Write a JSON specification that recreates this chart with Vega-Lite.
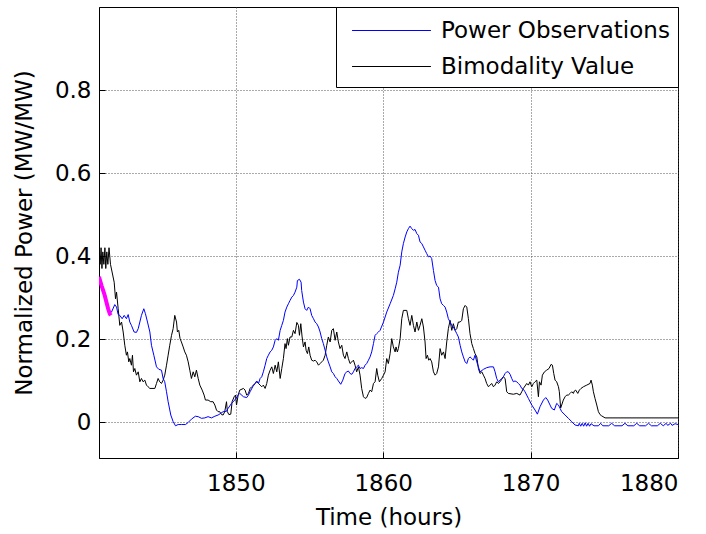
{
  "$schema": "https://vega.github.io/schema/vega-lite/v6.json",
  "width": 579,
  "height": 451,
  "autosize": "none",
  "padding": {"left": 99, "top": 7, "right": 28, "bottom": 76},
  "background": "white",
  "datasets": {
    "power": [
      {"t": 1840.72, "v": 0.35}, {"t": 1840.89, "v": 0.329}, {"t": 1841.0, "v": 0.317}, {"t": 1841.11, "v": 0.305}, {"t": 1841.23, "v": 0.288}, {"t": 1841.34, "v": 0.273}, {"t": 1841.45, "v": 0.261}, {"t": 1841.57, "v": 0.265}, {"t": 1841.79, "v": 0.283}, {"t": 1841.91, "v": 0.277}, {"t": 1842.02, "v": 0.259}, {"t": 1842.13, "v": 0.257}, {"t": 1842.29, "v": 0.249}, {"t": 1842.43, "v": 0.257}, {"t": 1842.58, "v": 0.249}, {"t": 1842.7, "v": 0.259}, {"t": 1842.81, "v": 0.241}, {"t": 1842.92, "v": 0.233}, {"t": 1843.1, "v": 0.217}, {"t": 1843.26, "v": 0.216}, {"t": 1843.38, "v": 0.225}, {"t": 1843.49, "v": 0.241}, {"t": 1843.6, "v": 0.257}, {"t": 1843.76, "v": 0.273}, {"t": 1843.87, "v": 0.261}, {"t": 1844.01, "v": 0.241}, {"t": 1844.17, "v": 0.217}, {"t": 1844.28, "v": 0.185}, {"t": 1844.44, "v": 0.161}, {"t": 1844.62, "v": 0.133}, {"t": 1844.78, "v": 0.127}, {"t": 1844.96, "v": 0.125}, {"t": 1845.07, "v": 0.105}, {"t": 1845.18, "v": 0.097}, {"t": 1845.3, "v": 0.073}, {"t": 1845.41, "v": 0.049}, {"t": 1845.59, "v": 0.017}, {"t": 1845.75, "v": 0.001}, {"t": 1845.91, "v": -0.009}, {"t": 1846.09, "v": -0.006}, {"t": 1846.31, "v": -0.006}, {"t": 1846.59, "v": -0.006}, {"t": 1846.77, "v": -0.001}, {"t": 1846.99, "v": 0.007}, {"t": 1847.26, "v": 0.014}, {"t": 1847.45, "v": 0.013}, {"t": 1847.67, "v": 0.009}, {"t": 1847.9, "v": 0.01}, {"t": 1848.12, "v": 0.013}, {"t": 1848.35, "v": 0.01}, {"t": 1848.58, "v": 0.014}, {"t": 1848.8, "v": 0.017}, {"t": 1848.98, "v": 0.021}, {"t": 1849.14, "v": 0.025}, {"t": 1849.37, "v": 0.026}, {"t": 1849.48, "v": 0.033}, {"t": 1849.71, "v": 0.045}, {"t": 1849.93, "v": 0.053}, {"t": 1850.16, "v": 0.065}, {"t": 1850.27, "v": 0.069},
      {"t": 1850.52, "v": 0.061}, {"t": 1850.74, "v": 0.059}, {"t": 1850.86, "v": 0.065}, {"t": 1850.97, "v": 0.073}, {"t": 1851.15, "v": 0.085}, {"t": 1851.31, "v": 0.093}, {"t": 1851.42, "v": 0.099}, {"t": 1851.54, "v": 0.093}, {"t": 1851.65, "v": 0.105}, {"t": 1851.76, "v": 0.109}, {"t": 1851.87, "v": 0.121}, {"t": 1851.99, "v": 0.137}, {"t": 1852.1, "v": 0.153}, {"t": 1852.21, "v": 0.161}, {"t": 1852.33, "v": 0.169}, {"t": 1852.44, "v": 0.173}, {"t": 1852.55, "v": 0.181}, {"t": 1852.67, "v": 0.197}, {"t": 1852.78, "v": 0.201}, {"t": 1852.89, "v": 0.197}, {"t": 1853.01, "v": 0.221}, {"t": 1853.12, "v": 0.233}, {"t": 1853.23, "v": 0.245}, {"t": 1853.34, "v": 0.265}, {"t": 1853.46, "v": 0.277}, {"t": 1853.57, "v": 0.285}, {"t": 1853.68, "v": 0.293}, {"t": 1853.8, "v": 0.301}, {"t": 1853.91, "v": 0.305}, {"t": 1854.02, "v": 0.313}, {"t": 1854.14, "v": 0.325}, {"t": 1854.18, "v": 0.341}, {"t": 1854.32, "v": 0.344}, {"t": 1854.43, "v": 0.337}, {"t": 1854.47, "v": 0.317}, {"t": 1854.59, "v": 0.289}, {"t": 1854.7, "v": 0.273}, {"t": 1854.81, "v": 0.269}, {"t": 1854.93, "v": 0.277}, {"t": 1855.04, "v": 0.273}, {"t": 1855.15, "v": 0.257}, {"t": 1855.27, "v": 0.249}, {"t": 1855.38, "v": 0.241}, {"t": 1855.49, "v": 0.237}, {"t": 1855.61, "v": 0.229}, {"t": 1855.72, "v": 0.217}, {"t": 1855.83, "v": 0.201}, {"t": 1855.94, "v": 0.189}, {"t": 1856.06, "v": 0.173}, {"t": 1856.17, "v": 0.157}, {"t": 1856.28, "v": 0.145}, {"t": 1856.4, "v": 0.133}, {"t": 1856.51, "v": 0.121}, {"t": 1856.62, "v": 0.117}, {"t": 1856.74, "v": 0.109}, {"t": 1856.85, "v": 0.105}, {"t": 1856.96, "v": 0.099}, {"t": 1857.12, "v": 0.091}, {"t": 1857.26, "v": 0.101}, {"t": 1857.41, "v": 0.117}, {"t": 1857.53, "v": 0.121}, {"t": 1857.64, "v": 0.123}, {"t": 1857.75, "v": 0.117}, {"t": 1857.87, "v": 0.115}, {"t": 1857.98, "v": 0.121}, {"t": 1858.09, "v": 0.129}, {"t": 1858.2, "v": 0.133}, {"t": 1858.32, "v": 0.137}, {"t": 1858.43, "v": 0.129}, {"t": 1858.54, "v": 0.131}, {"t": 1858.66, "v": 0.129}, {"t": 1858.77, "v": 0.137}, {"t": 1858.88, "v": 0.141}, {"t": 1859.0, "v": 0.149}, {"t": 1859.11, "v": 0.157}, {"t": 1859.22, "v": 0.169}, {"t": 1859.34, "v": 0.189}, {"t": 1859.45, "v": 0.209}, {"t": 1859.56, "v": 0.213}, {"t": 1859.68, "v": 0.217}, {"t": 1859.79, "v": 0.221},
      {"t": 1860.02, "v": 0.241}, {"t": 1860.24, "v": 0.265}, {"t": 1860.47, "v": 0.285}, {"t": 1860.69, "v": 0.305}, {"t": 1860.81, "v": 0.321}, {"t": 1860.92, "v": 0.337}, {"t": 1861.03, "v": 0.361}, {"t": 1861.15, "v": 0.378}, {"t": 1861.26, "v": 0.41}, {"t": 1861.37, "v": 0.43}, {"t": 1861.49, "v": 0.446}, {"t": 1861.6, "v": 0.458}, {"t": 1861.71, "v": 0.466}, {"t": 1861.82, "v": 0.472}, {"t": 1861.94, "v": 0.466}, {"t": 1862.05, "v": 0.462}, {"t": 1862.16, "v": 0.464}, {"t": 1862.28, "v": 0.454}, {"t": 1862.39, "v": 0.45}, {"t": 1862.5, "v": 0.434}, {"t": 1862.62, "v": 0.43}, {"t": 1862.73, "v": 0.422}, {"t": 1862.84, "v": 0.414}, {"t": 1862.95, "v": 0.406}, {"t": 1863.07, "v": 0.398}, {"t": 1863.18, "v": 0.4}, {"t": 1863.29, "v": 0.394}, {"t": 1863.41, "v": 0.365}, {"t": 1863.52, "v": 0.341}, {"t": 1863.63, "v": 0.329}, {"t": 1863.75, "v": 0.325}, {"t": 1863.86, "v": 0.297}, {"t": 1863.97, "v": 0.285}, {"t": 1864.09, "v": 0.281}, {"t": 1864.2, "v": 0.277}, {"t": 1864.31, "v": 0.265}, {"t": 1864.42, "v": 0.249}, {"t": 1864.54, "v": 0.241}, {"t": 1864.65, "v": 0.233}, {"t": 1864.76, "v": 0.229}, {"t": 1864.88, "v": 0.221}, {"t": 1864.99, "v": 0.213}, {"t": 1865.1, "v": 0.205}, {"t": 1865.22, "v": 0.185}, {"t": 1865.33, "v": 0.169}, {"t": 1865.44, "v": 0.157}, {"t": 1865.56, "v": 0.145}, {"t": 1865.67, "v": 0.141}, {"t": 1865.78, "v": 0.153}, {"t": 1865.89, "v": 0.157}, {"t": 1866.01, "v": 0.153}, {"t": 1866.12, "v": 0.149}, {"t": 1866.23, "v": 0.161}, {"t": 1866.35, "v": 0.145}, {"t": 1866.46, "v": 0.133}, {"t": 1866.57, "v": 0.121}, {"t": 1866.8, "v": 0.127}, {"t": 1867.02, "v": 0.131}, {"t": 1867.25, "v": 0.133}, {"t": 1867.48, "v": 0.133}, {"t": 1867.59, "v": 0.121}, {"t": 1867.7, "v": 0.105}, {"t": 1867.81, "v": 0.097}, {"t": 1867.93, "v": 0.101}, {"t": 1868.04, "v": 0.105}, {"t": 1868.15, "v": 0.109}, {"t": 1868.27, "v": 0.117}, {"t": 1868.38, "v": 0.121}, {"t": 1868.49, "v": 0.121}, {"t": 1868.61, "v": 0.115}, {"t": 1868.72, "v": 0.105}, {"t": 1868.83, "v": 0.097}, {"t": 1868.94, "v": 0.099}, {"t": 1869.06, "v": 0.097}, {"t": 1869.17, "v": 0.093}, {"t": 1869.28, "v": 0.089}, {"t": 1869.4, "v": 0.081}, {"t": 1869.51, "v": 0.079}, {"t": 1869.62, "v": 0.073},
      {"t": 1869.85, "v": 0.057}, {"t": 1870.08, "v": 0.041}, {"t": 1870.3, "v": 0.029}, {"t": 1870.46, "v": 0.019}, {"t": 1870.64, "v": 0.037}, {"t": 1870.87, "v": 0.053}, {"t": 1871.03, "v": 0.059}, {"t": 1871.16, "v": 0.053}, {"t": 1871.32, "v": 0.041}, {"t": 1871.43, "v": 0.033}, {"t": 1871.61, "v": 0.029}, {"t": 1871.77, "v": 0.045}, {"t": 1871.89, "v": 0.041}, {"t": 1872.0, "v": 0.033}, {"t": 1872.11, "v": 0.025}, {"t": 1872.34, "v": 0.017}, {"t": 1872.56, "v": 0.009}, {"t": 1872.79, "v": 0.001}, {"t": 1873.01, "v": -0.007}, {"t": 1873.24, "v": -0.009},
      {"t": 1873.3, "v": -0.003}, {"t": 1873.4, "v": -0.01}, {"t": 1873.5, "v": -0.003}, {"t": 1873.6, "v": -0.01}, {"t": 1873.7, "v": -0.002}, {"t": 1873.8, "v": -0.01}, {"t": 1873.9, "v": -0.003}, {"t": 1874.0, "v": -0.01}, {"t": 1874.1, "v": -0.004}, {"t": 1874.3, "v": -0.009}, {"t": 1874.6, "v": -0.009}, {"t": 1874.75, "v": -0.003}, {"t": 1874.9, "v": -0.009}, {"t": 1875.3, "v": -0.009}, {"t": 1875.5, "v": -0.003}, {"t": 1875.7, "v": -0.009}, {"t": 1876.2, "v": -0.009}, {"t": 1876.4, "v": -0.003}, {"t": 1876.6, "v": -0.009}, {"t": 1877.0, "v": -0.009}, {"t": 1877.2, "v": -0.003}, {"t": 1877.4, "v": -0.009}, {"t": 1877.8, "v": -0.009}, {"t": 1878.0, "v": -0.003}, {"t": 1878.2, "v": -0.009}, {"t": 1878.6, "v": -0.009}, {"t": 1878.8, "v": -0.003}, {"t": 1879.0, "v": -0.009}, {"t": 1879.2, "v": -0.003}, {"t": 1879.3, "v": -0.008}, {"t": 1879.5, "v": -0.003}, {"t": 1879.6, "v": -0.008}, {"t": 1879.8, "v": -0.004}, {"t": 1880.0, "v": -0.006}
    ],
    "bimodality": [
      {"t": 1840.72, "v": 0.42}, {"t": 1840.8, "v": 0.38}, {"t": 1840.86, "v": 0.42}, {"t": 1840.92, "v": 0.37}, {"t": 1840.98, "v": 0.41}, {"t": 1841.05, "v": 0.38}, {"t": 1841.12, "v": 0.42}, {"t": 1841.18, "v": 0.37}, {"t": 1841.25, "v": 0.41}, {"t": 1841.32, "v": 0.38}, {"t": 1841.4, "v": 0.42}, {"t": 1841.5, "v": 0.38},
      {"t": 1841.75, "v": 0.337}, {"t": 1841.84, "v": 0.297}, {"t": 1841.91, "v": 0.313}, {"t": 1842.02, "v": 0.273}, {"t": 1842.13, "v": 0.233}, {"t": 1842.25, "v": 0.241}, {"t": 1842.36, "v": 0.217}, {"t": 1842.47, "v": 0.185}, {"t": 1842.58, "v": 0.161}, {"t": 1842.65, "v": 0.169}, {"t": 1842.74, "v": 0.145}, {"t": 1842.81, "v": 0.153}, {"t": 1842.92, "v": 0.137}, {"t": 1842.99, "v": 0.161}, {"t": 1843.06, "v": 0.121}, {"t": 1843.15, "v": 0.129}, {"t": 1843.26, "v": 0.113}, {"t": 1843.38, "v": 0.121}, {"t": 1843.49, "v": 0.097}, {"t": 1843.6, "v": 0.105}, {"t": 1843.71, "v": 0.097}, {"t": 1843.83, "v": 0.101}, {"t": 1843.94, "v": 0.089}, {"t": 1844.05, "v": 0.085}, {"t": 1844.17, "v": 0.081}, {"t": 1844.51, "v": 0.081}, {"t": 1844.62, "v": 0.093}, {"t": 1844.73, "v": 0.105}, {"t": 1844.84, "v": 0.097}, {"t": 1844.96, "v": 0.093}, {"t": 1845.07, "v": 0.101}, {"t": 1845.18, "v": 0.113}, {"t": 1845.3, "v": 0.137}, {"t": 1845.41, "v": 0.161}, {"t": 1845.52, "v": 0.185}, {"t": 1845.64, "v": 0.209}, {"t": 1845.75, "v": 0.225}, {"t": 1845.86, "v": 0.257}, {"t": 1845.98, "v": 0.241}, {"t": 1846.04, "v": 0.217}, {"t": 1846.13, "v": 0.221}, {"t": 1846.22, "v": 0.201}, {"t": 1846.31, "v": 0.193}, {"t": 1846.43, "v": 0.181}, {"t": 1846.54, "v": 0.169}, {"t": 1846.65, "v": 0.161}, {"t": 1846.77, "v": 0.145}, {"t": 1846.88, "v": 0.125}, {"t": 1846.99, "v": 0.105}, {"t": 1847.11, "v": 0.121}, {"t": 1847.22, "v": 0.109}, {"t": 1847.33, "v": 0.125}, {"t": 1847.45, "v": 0.105}, {"t": 1847.56, "v": 0.089}, {"t": 1847.72, "v": 0.077}, {"t": 1847.85, "v": 0.065}, {"t": 1847.94, "v": 0.053}, {"t": 1848.12, "v": 0.053}, {"t": 1848.3, "v": 0.049}, {"t": 1848.46, "v": 0.049}, {"t": 1848.58, "v": 0.041}, {"t": 1848.69, "v": 0.029}, {"t": 1848.8, "v": 0.025}, {"t": 1848.91, "v": 0.025}, {"t": 1849.03, "v": 0.018}, {"t": 1849.14, "v": 0.017}, {"t": 1849.25, "v": 0.025}, {"t": 1849.37, "v": 0.049}, {"t": 1849.43, "v": 0.025}, {"t": 1849.53, "v": 0.018}, {"t": 1849.66, "v": 0.019}, {"t": 1849.75, "v": 0.049}, {"t": 1849.89, "v": 0.061}, {"t": 1849.98, "v": 0.065}, {"t": 1850.05, "v": 0.041}, {"t": 1850.16, "v": 0.065}, {"t": 1850.27, "v": 0.077},
      {"t": 1850.52, "v": 0.081}, {"t": 1850.63, "v": 0.077}, {"t": 1850.74, "v": 0.065}, {"t": 1850.86, "v": 0.069}, {"t": 1850.97, "v": 0.081}, {"t": 1851.08, "v": 0.085}, {"t": 1851.2, "v": 0.089}, {"t": 1851.31, "v": 0.093}, {"t": 1851.42, "v": 0.097}, {"t": 1851.54, "v": 0.093}, {"t": 1851.65, "v": 0.089}, {"t": 1851.76, "v": 0.085}, {"t": 1851.87, "v": 0.089}, {"t": 1851.99, "v": 0.081}, {"t": 1852.1, "v": 0.093}, {"t": 1852.21, "v": 0.113}, {"t": 1852.33, "v": 0.125}, {"t": 1852.44, "v": 0.133}, {"t": 1852.55, "v": 0.117}, {"t": 1852.67, "v": 0.137}, {"t": 1852.78, "v": 0.121}, {"t": 1852.89, "v": 0.145}, {"t": 1853.01, "v": 0.105}, {"t": 1853.12, "v": 0.129}, {"t": 1853.23, "v": 0.153}, {"t": 1853.34, "v": 0.189}, {"t": 1853.41, "v": 0.177}, {"t": 1853.5, "v": 0.201}, {"t": 1853.57, "v": 0.185}, {"t": 1853.68, "v": 0.205}, {"t": 1853.8, "v": 0.205}, {"t": 1853.91, "v": 0.221}, {"t": 1854.02, "v": 0.213}, {"t": 1854.14, "v": 0.24}, {"t": 1854.25, "v": 0.233}, {"t": 1854.32, "v": 0.209}, {"t": 1854.41, "v": 0.237}, {"t": 1854.5, "v": 0.205}, {"t": 1854.59, "v": 0.181}, {"t": 1854.7, "v": 0.193}, {"t": 1854.77, "v": 0.173}, {"t": 1854.86, "v": 0.165}, {"t": 1854.95, "v": 0.181}, {"t": 1855.04, "v": 0.161}, {"t": 1855.15, "v": 0.149}, {"t": 1855.27, "v": 0.147}, {"t": 1855.38, "v": 0.149}, {"t": 1855.49, "v": 0.145}, {"t": 1855.61, "v": 0.137}, {"t": 1855.72, "v": 0.141}, {"t": 1855.83, "v": 0.145}, {"t": 1855.94, "v": 0.149}, {"t": 1856.06, "v": 0.161}, {"t": 1856.17, "v": 0.185}, {"t": 1856.28, "v": 0.205}, {"t": 1856.4, "v": 0.193}, {"t": 1856.51, "v": 0.221}, {"t": 1856.62, "v": 0.225}, {"t": 1856.74, "v": 0.197}, {"t": 1856.85, "v": 0.217}, {"t": 1856.96, "v": 0.193}, {"t": 1857.07, "v": 0.177}, {"t": 1857.19, "v": 0.185}, {"t": 1857.3, "v": 0.161}, {"t": 1857.41, "v": 0.153}, {"t": 1857.53, "v": 0.169}, {"t": 1857.64, "v": 0.153}, {"t": 1857.75, "v": 0.141}, {"t": 1857.87, "v": 0.145}, {"t": 1857.98, "v": 0.149}, {"t": 1858.09, "v": 0.137}, {"t": 1858.2, "v": 0.121}, {"t": 1858.32, "v": 0.133}, {"t": 1858.43, "v": 0.113}, {"t": 1858.54, "v": 0.081}, {"t": 1858.66, "v": 0.061}, {"t": 1858.77, "v": 0.057}, {"t": 1858.88, "v": 0.059}, {"t": 1859.0, "v": 0.069}, {"t": 1859.11, "v": 0.077}, {"t": 1859.22, "v": 0.073}, {"t": 1859.34, "v": 0.093}, {"t": 1859.45, "v": 0.097}, {"t": 1859.56, "v": 0.129}, {"t": 1859.63, "v": 0.113}, {"t": 1859.74, "v": 0.097},
      {"t": 1859.9, "v": 0.105}, {"t": 1860.02, "v": 0.113}, {"t": 1860.13, "v": 0.121}, {"t": 1860.24, "v": 0.153}, {"t": 1860.35, "v": 0.141}, {"t": 1860.47, "v": 0.165}, {"t": 1860.58, "v": 0.201}, {"t": 1860.69, "v": 0.181}, {"t": 1860.81, "v": 0.169}, {"t": 1860.87, "v": 0.181}, {"t": 1860.96, "v": 0.169}, {"t": 1861.03, "v": 0.177}, {"t": 1861.15, "v": 0.201}, {"t": 1861.26, "v": 0.249}, {"t": 1861.37, "v": 0.269}, {"t": 1861.6, "v": 0.269}, {"t": 1861.71, "v": 0.249}, {"t": 1861.82, "v": 0.233}, {"t": 1861.94, "v": 0.257}, {"t": 1862.05, "v": 0.233}, {"t": 1862.16, "v": 0.217}, {"t": 1862.28, "v": 0.241}, {"t": 1862.39, "v": 0.221}, {"t": 1862.5, "v": 0.233}, {"t": 1862.62, "v": 0.249}, {"t": 1862.73, "v": 0.229}, {"t": 1862.84, "v": 0.193}, {"t": 1862.91, "v": 0.153}, {"t": 1863.0, "v": 0.161}, {"t": 1863.09, "v": 0.149}, {"t": 1863.18, "v": 0.153}, {"t": 1863.29, "v": 0.145}, {"t": 1863.41, "v": 0.121}, {"t": 1863.52, "v": 0.113}, {"t": 1863.63, "v": 0.117}, {"t": 1863.75, "v": 0.133}, {"t": 1863.86, "v": 0.177}, {"t": 1863.97, "v": 0.161}, {"t": 1864.09, "v": 0.169}, {"t": 1864.2, "v": 0.153}, {"t": 1864.31, "v": 0.193}, {"t": 1864.42, "v": 0.225}, {"t": 1864.54, "v": 0.245}, {"t": 1864.65, "v": 0.221}, {"t": 1864.76, "v": 0.237}, {"t": 1864.88, "v": 0.221}, {"t": 1864.99, "v": 0.225}, {"t": 1865.1, "v": 0.241}, {"t": 1865.22, "v": 0.241}, {"t": 1865.33, "v": 0.245}, {"t": 1865.44, "v": 0.273}, {"t": 1865.56, "v": 0.281}, {"t": 1865.67, "v": 0.277}, {"t": 1865.78, "v": 0.249}, {"t": 1865.89, "v": 0.213}, {"t": 1866.01, "v": 0.189}, {"t": 1866.12, "v": 0.177}, {"t": 1866.23, "v": 0.165}, {"t": 1866.35, "v": 0.157}, {"t": 1866.46, "v": 0.129}, {"t": 1866.57, "v": 0.117}, {"t": 1866.69, "v": 0.121}, {"t": 1866.8, "v": 0.113}, {"t": 1866.91, "v": 0.105}, {"t": 1867.02, "v": 0.093}, {"t": 1867.14, "v": 0.085}, {"t": 1867.25, "v": 0.089}, {"t": 1867.36, "v": 0.093}, {"t": 1867.48, "v": 0.085}, {"t": 1867.59, "v": 0.089}, {"t": 1867.7, "v": 0.097}, {"t": 1867.81, "v": 0.093}, {"t": 1867.93, "v": 0.097}, {"t": 1868.04, "v": 0.103}, {"t": 1868.15, "v": 0.109}, {"t": 1868.27, "v": 0.105}, {"t": 1868.38, "v": 0.073}, {"t": 1868.49, "v": 0.069}, {"t": 1868.83, "v": 0.067}, {"t": 1869.06, "v": 0.069}, {"t": 1869.28, "v": 0.065}, {"t": 1869.4, "v": 0.073}, {"t": 1869.51, "v": 0.081},
      {"t": 1869.74, "v": 0.093}, {"t": 1869.85, "v": 0.089}, {"t": 1869.96, "v": 0.097}, {"t": 1870.08, "v": 0.085}, {"t": 1870.19, "v": 0.093}, {"t": 1870.3, "v": 0.097}, {"t": 1870.42, "v": 0.101}, {"t": 1870.53, "v": 0.061}, {"t": 1870.6, "v": 0.097}, {"t": 1870.71, "v": 0.089}, {"t": 1870.8, "v": 0.113}, {"t": 1870.94, "v": 0.121}, {"t": 1871.09, "v": 0.125}, {"t": 1871.25, "v": 0.129}, {"t": 1871.39, "v": 0.139}, {"t": 1871.48, "v": 0.137}, {"t": 1871.57, "v": 0.117}, {"t": 1871.66, "v": 0.101}, {"t": 1871.77, "v": 0.097}, {"t": 1871.89, "v": 0.085}, {"t": 1871.95, "v": 0.073}, {"t": 1872.04, "v": 0.034}, {"t": 1872.11, "v": 0.041}, {"t": 1872.22, "v": 0.053}, {"t": 1872.34, "v": 0.061}, {"t": 1872.45, "v": 0.065}, {"t": 1872.56, "v": 0.065}, {"t": 1872.68, "v": 0.069}, {"t": 1872.79, "v": 0.073}, {"t": 1872.9, "v": 0.069}, {"t": 1872.97, "v": 0.075}, {"t": 1873.06, "v": 0.077}, {"t": 1873.2, "v": 0.069}, {"t": 1873.31, "v": 0.077}, {"t": 1873.42, "v": 0.081}, {"t": 1873.58, "v": 0.085}, {"t": 1873.81, "v": 0.089}, {"t": 1874.03, "v": 0.093}, {"t": 1874.1, "v": 0.101}, {"t": 1874.19, "v": 0.089}, {"t": 1874.26, "v": 0.073}, {"t": 1874.37, "v": 0.057}, {"t": 1874.49, "v": 0.041}, {"t": 1874.6, "v": 0.025}, {"t": 1874.71, "v": 0.018}, {"t": 1874.82, "v": 0.015}, {"t": 1875.05, "v": 0.01}, {"t": 1880.0, "v": 0.01}
    ],
    "window": [
      {"t": 1840.72, "v": 0.35}, {"t": 1840.89, "v": 0.329}, {"t": 1841.0, "v": 0.317}, {"t": 1841.11, "v": 0.305}, {"t": 1841.23, "v": 0.288}, {"t": 1841.34, "v": 0.273}, {"t": 1841.45, "v": 0.261}, {"t": 1841.52, "v": 0.257}
    ]
  },
  "layer": [
    {
      "data": {"name": "bimodality"},
      "transform": [{"calculate": "'Bimodality Value'", "as": "s"}],
      "mark": {"type": "line", "strokeWidth": 1, "clip": true},
      "encoding": {
        "x": {"field": "t", "type": "quantitative", "scale": {"domain": [1840.72, 1880], "nice": false, "zero": false},
          "axis": {"values": [1850, 1860, 1870, 1880], "format": "d", "title": "Time (hours)", "grid": true}},
        "y": {"field": "v", "type": "quantitative", "scale": {"domain": [-0.0866, 1.0], "nice": false, "zero": false},
          "axis": {"values": [0, 0.2, 0.4, 0.6, 0.8], "format": "~g", "title": "Normalized Power (MW/MW)", "grid": true}},
        "color": {"field": "s", "type": "nominal",
          "scale": {"domain": ["Power Observations", "Bimodality Value"], "range": ["#0000ff", "#000000"]},
          "legend": {"title": null, "orient": "top-right", "offset": 0}}
      }
    },
    {
      "data": {"name": "power"},
      "transform": [{"calculate": "'Power Observations'", "as": "s"}],
      "mark": {"type": "line", "strokeWidth": 1, "clip": true},
      "encoding": {
        "x": {"field": "t", "type": "quantitative"},
        "y": {"field": "v", "type": "quantitative"},
        "color": {"field": "s", "type": "nominal"}
      }
    },
    {
      "data": {"name": "window"},
      "mark": {"type": "line", "strokeWidth": 4, "color": "#ff00ff", "clip": true},
      "encoding": {
        "x": {"field": "t", "type": "quantitative"},
        "y": {"field": "v", "type": "quantitative"}
      }
    },
    {
      "mark": {"type": "rule", "color": "#ff0000", "strokeWidth": 1},
      "encoding": {"y": {"datum": 0.4}}
    }
  ],
  "config": {
    "view": {"stroke": "#000000", "strokeWidth": 1},
    "font": "DejaVu Sans",
    "axis": {
      "labelFont": "DejaVu Sans", "titleFont": "DejaVu Sans",
      "labelFontSize": 23, "titleFontSize": 23, "titleFontWeight": "normal",
      "labelColor": "#000000", "titleColor": "#000000",
      "domainColor": "#000000", "tickColor": "#000000",
      "gridColor": "#444444", "gridDash": [1, 2], "gridOpacity": 0.9, "gridWidth": 1,
      "tickSize": -6, "labelPadding": 14
    },
    "axisX": {"titlePadding": 11, "labelPadding": 20},
    "axisY": {"titlePadding": 18},
    "legend": {
      "labelFont": "DejaVu Sans", "labelFontSize": 23, "labelColor": "#000000", "labelLimit": 500,
      "fillColor": "#ffffff", "strokeColor": "#000000",
      "padding": 8, "symbolSize": 900, "symbolType": "M-2.63,0H2.63",
      "symbolStrokeWidth": 1, "symbolOffset": 32, "labelOffset": 34, "rowPadding": 8
    }
  }
}
